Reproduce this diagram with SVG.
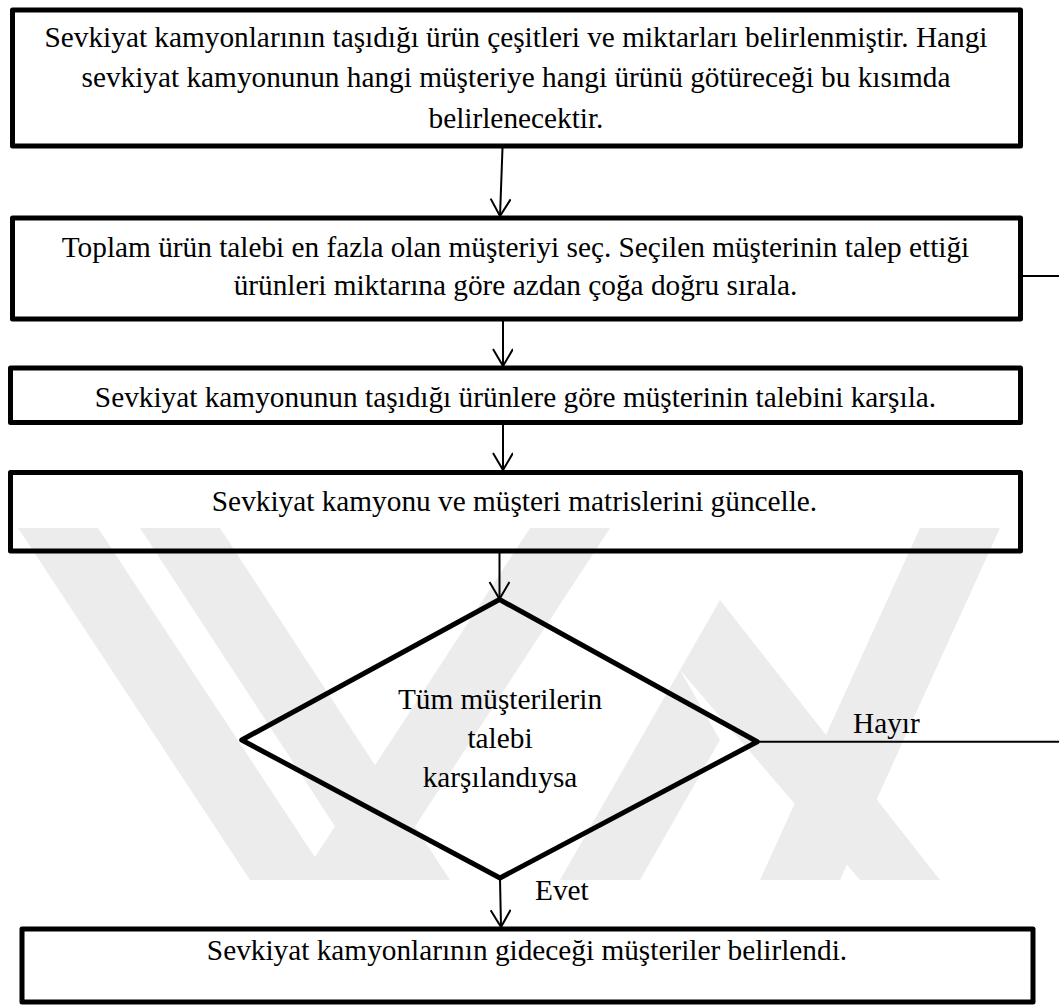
<svg xmlns="http://www.w3.org/2000/svg" width="1059" height="1007" viewBox="0 0 1059 1007">
<style>
.box{fill:none;stroke:#000;stroke-width:5;stroke-linejoin:round}
.t{font-family:"Liberation Serif","Times New Roman",serif;font-size:29.3px;fill:#000;text-anchor:middle}
.ts{font-family:"Liberation Serif","Times New Roman",serif;font-size:29.3px;fill:#000}
.c{fill:none;stroke:#000;stroke-width:2}
.wm{fill:#ececec;stroke:none}
</style>
<defs>
<marker id="ah" markerWidth="24" markerHeight="24" refX="20" refY="10" orient="auto" markerUnits="userSpaceOnUse">
<path d="M3,0 L20,10 L3,20" fill="none" stroke="#000" stroke-width="2"/>
</marker>
</defs>
<rect width="1059" height="1007" fill="#fff"/>
<g id="watermark">
<polygon class="wm" points="18,528 98,528 330,880 250,880"/>
<polygon class="wm" points="140,528 220,528 450,880 370,880"/>
<polygon class="wm" points="300,880 380,880 610,528 530,528"/>
<polygon class="wm" points="560,880 640,880 720,740 680,670"/>
<polygon class="wm" points="680,670 720,600 940,880 860,880"/>
<polygon class="wm" points="760,880 840,880 1000,528 920,528"/>
</g>
<g id="connectors">
<path class="c" d="M502.5,148 L500,216" marker-end="url(#ah)"/>
<path class="c" d="M503,321 L503,366" marker-end="url(#ah)"/>
<path class="c" d="M503,425 L503,470" marker-end="url(#ah)"/>
<path class="c" d="M499.5,553 L499.5,599" marker-end="url(#ah)"/>
<path class="c" d="M500,879 L501,927" marker-end="url(#ah)"/>
<path class="c" d="M757,741.7 L1059,741.7"/>
<path class="c" d="M1022,276 L1059,276"/>
<text class="ts" x="853" y="732.7">Hayır</text>
<text class="ts" x="535" y="900">Evet</text>
</g>
<g id="n1">
<rect class="box" x="12.5" y="10" width="1008" height="136"/>
<text class="t" x="516" y="46.7">Sevkiyat kamyonlarının taşıdığı ürün çeşitleri ve miktarları belirlenmiştir. Hangi</text>
<text class="t" x="516" y="87.3">sevkiyat kamyonunun hangi müşteriye hangi ürünü götüreceği bu kısımda</text>
<text class="t" x="516" y="128">belirlenecektir.</text>
</g>
<g id="n2">
<rect class="box" x="12.5" y="218" width="1008" height="101"/>
<text class="t" x="515.5" y="256.7">Toplam ürün talebi en fazla olan müşteriyi seç. Seçilen müşterinin talep ettiği</text>
<text class="t" x="515.5" y="295">ürünleri miktarına göre azdan çoğa doğru sırala.</text>
</g>
<g id="n3">
<rect class="box" x="10.5" y="368" width="1010" height="54.5"/>
<text class="t" x="515.5" y="407">Sevkiyat kamyonunun taşıdığı ürünlere göre müşterinin talebini karşıla.</text>
</g>
<g id="n4">
<rect class="box" x="10.5" y="472.5" width="1010" height="78.5"/>
<text class="t" x="514.5" y="510.7">Sevkiyat kamyonu ve müşteri matrislerini güncelle.</text>
</g>
<g id="n5">
<polygon class="box" points="499.5,599.5 757.3,741.7 500,878 241.7,740"/>
<text class="t" x="500" y="709">Tüm müşterilerin</text>
<text class="t" x="500" y="748.3">talebi</text>
<text class="t" x="500" y="786.7">karşılandıysa</text>
</g>
<g id="n6">
<rect class="box" x="22" y="929" width="1011" height="73"/>
<text class="t" x="527" y="960">Sevkiyat kamyonlarının gideceği müşteriler belirlendi.</text>
</g>
</svg>
